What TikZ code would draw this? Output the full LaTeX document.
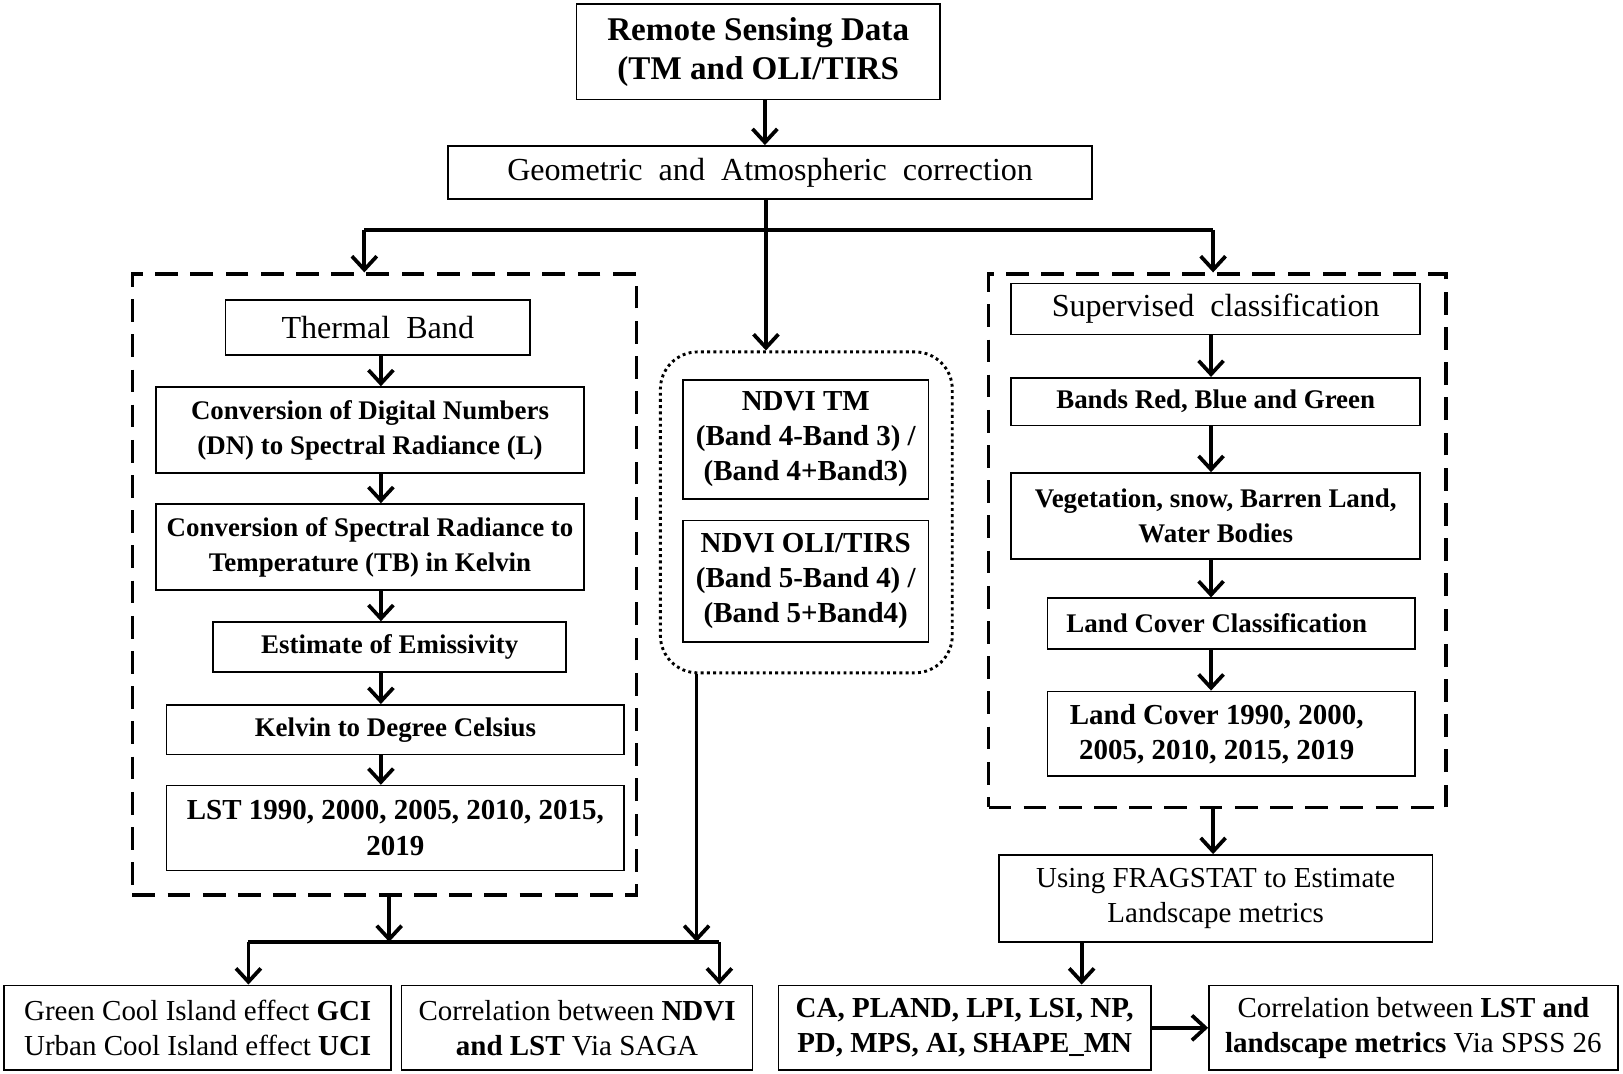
\documentclass[tikz,border=0pt]{standalone}
\usepackage{fontspec}
\setmainfont{Liberation Serif}
\usetikzlibrary{arrows.meta}
\begin{document}
\begin{tikzpicture}[x=0.5pt,y=-0.5pt,
  >={Straight Barb[length=6.5pt,width=12pt]},
  procbox/.style={draw, line width=0.8pt, align=center, inner sep=1pt},
  boldbox/.style={procbox, font=\fontsize{13}{17}\selectfont\bfseries},
  plainbox/.style={procbox, font=\fontsize{15.5}{19}\selectfont},
  outbox/.style={procbox, font=\fontsize{14}{17}\selectfont},
  grpbox/.style={draw, line width=1.8pt, dash pattern=on 11pt off 6pt},
  flow/.style={->, line width=1.8pt},
  link/.style={line width=1.8pt}]
\useasboundingbox (0,0) rectangle (1568,1037);
% top of the chart
\node[procbox, font=\fontsize{16}{19}\selectfont\bfseries, minimum width=175.5pt, minimum height=46pt] (remote) at (732.5,50) {Remote Sensing Data\\(TM and OLI/TIRS};
\node[plainbox, minimum width=311pt, minimum height=25.5pt] (geo) at (744,166.5) {Geometric\ \ and\ \ Atmospheric\ \ correction};
% group frames
\node[grpbox, minimum width=243.5pt, minimum height=300pt] (thermalgrp) at (371.5,565) {};
\node[draw, line width=1.4pt, dash pattern=on 1.4pt off 1.6pt, rounded corners=18pt, minimum width=141pt, minimum height=155pt] (ndvigrp) at (779,495) {};
\node[grpbox, minimum width=221pt, minimum height=257.5pt] (classgrp) at (1176,522.5) {};
% thermal branch
\node[plainbox, minimum width=147pt, minimum height=26.5pt] (thermal) at (365,316.5) {Thermal\ \ Band};
\node[boldbox, minimum width=206.5pt, minimum height=41.5pt] (convdn) at (357.5,415.5) {Conversion of Digital Numbers\\(DN) to Spectral Radiance (L)};
\node[boldbox, minimum width=206.5pt, minimum height=41.5pt] (convsr) at (357.5,528.5) {Conversion of Spectral Radiance to\\Temperature (TB) in Kelvin};
\node[boldbox, minimum width=170.5pt, minimum height=24pt] (emis) at (376.5,625) {Estimate of Emissivity};
\node[boldbox, minimum width=221pt, minimum height=24pt] (kelvin) at (382,705) {Kelvin to Degree Celsius};
\node[boldbox, font=\fontsize{14}{17}\selectfont\bfseries, minimum width=221pt, minimum height=41pt] (lst) at (382,800) {LST 1990, 2000, 2005, 2010, 2015,\\2019};
% ndvi branch
\node[boldbox, font=\fontsize{14}{17}\selectfont\bfseries, minimum width=118.5pt, minimum height=57.5pt] (ndvitm) at (778.5,424.5) {NDVI TM\\(Band 4-Band 3) /\\(Band 4+Band3)};
\node[boldbox, font=\fontsize{14}{17}\selectfont\bfseries, minimum width=118.5pt, minimum height=58.5pt] (ndvioli) at (778.5,561.5) {NDVI OLI/TIRS\\(Band 5-Band 4) /\\(Band 5+Band4)};
% classification branch
\node[plainbox, minimum width=197.5pt, minimum height=24.5pt] (superv) at (1174.5,298.5) {Supervised\ \ classification};
\node[boldbox, minimum width=197.5pt, minimum height=23pt] (bands) at (1174.5,388) {Bands Red, Blue and Green};
\node[boldbox, minimum width=197.5pt, minimum height=41.5pt] (veget) at (1174.5,498.5) {Vegetation, snow, Barren Land,\\Water Bodies};
\node[boldbox, minimum width=177.5pt, minimum height=24.5pt] (lcc) at (1189.5,602.5) {\hspace*{-14pt}Land Cover Classification};
\node[boldbox, font=\fontsize{14}{17}\selectfont\bfseries, minimum width=177.5pt, minimum height=41pt] (lc) at (1189.5,709) {\hspace*{-14pt}Land Cover 1990, 2000,\\\hspace*{-14pt}2005, 2010, 2015, 2019};
\node[outbox, minimum width=209.5pt, minimum height=42pt] (frag) at (1174.5,868) {Using FRAGSTAT to Estimate\\Landscape metrics};
% results
\node[outbox, minimum width=187pt, minimum height=41pt] (gci) at (191,993) {Green Cool Island effect \textbf{GCI}\\Urban Cool Island effect \textbf{UCI}};
\node[outbox, minimum width=169.5pt, minimum height=41pt] (corrndvi) at (557.5,993) {Correlation between \textbf{NDVI}\\\textbf{and LST} Via SAGA};
\node[outbox, font=\fontsize{14}{17}\selectfont\bfseries, minimum width=180pt, minimum height=41pt] (metrics) at (932,993) {CA, PLAND, LPI, LSI, NP,\\PD, MPS, AI, SHAPE\_MN};
\node[outbox, minimum width=197.5pt, minimum height=41pt] (corrlst) at (1365.5,993) {Correlation between \textbf{LST and}\\\textbf{landscape metrics} Via SPSS 26};
% helper coordinates for the lines
\coordinate (mcol) at (739,0);
\coordinate (split) at (740,222);
\coordinate (lbr) at (352,222);
\coordinate (rbr) at (1172,222);
\coordinate (lcol) at (368,0);
\coordinate (rcol) at (1170,0);
\coordinate (ncol) at (673,0);
\coordinate (merge) at (376,910);
\coordinate (mleft) at (240,910);
\coordinate (mright) at (695,910);
\coordinate (fcol) at (1045,0);
% connectors
\draw[flow] (remote.south -| mcol) -- (geo.north -| mcol);
\draw[link] (lbr) -- (rbr);
\draw[flow] (geo.south -| split) -- (ndvigrp.north -| split);
\draw[flow] (lbr) -- (thermalgrp.north -| lbr);
\draw[flow] (rbr) -- (classgrp.north -| rbr);
\foreach \a/\b in {thermal/convdn,convdn/convsr,convsr/emis,emis/kelvin,kelvin/lst}
  \draw[flow] (\a.south -| lcol) -- (\b.north -| lcol);
\foreach \a/\b in {superv/bands,bands/veget,veget/lcc,lcc/lc}
  \draw[flow] (\a.south -| rcol) -- (\b.north -| rcol);
\draw[flow] (thermalgrp.south -| merge) -- (merge);
\draw[link] (mleft) -- (mright);
\draw[flow] (ndvigrp.south -| ncol) -- (ncol |- merge);
\draw[flow] (mleft) -- (gci.north -| mleft);
\draw[flow] (mright) -- (corrndvi.north -| mright);
\draw[flow] (classgrp.south -| rbr) -- (frag.north -| rbr);
\draw[flow] (frag.south -| fcol) -- (metrics.north -| fcol);
\draw[flow] (metrics.east) -- (corrlst.west);
\end{tikzpicture}
\end{document}
